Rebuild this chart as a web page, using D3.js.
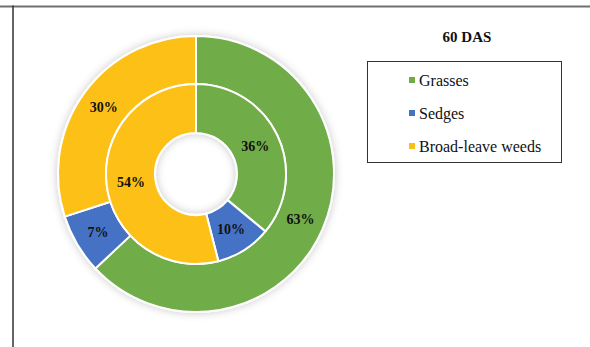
<!DOCTYPE html>
<html>
<head>
<meta charset="utf-8">
<script src="https://cdn.jsdelivr.net/npm/d3@7"></script>
<style>
  html, body { margin: 0; padding: 0; background: #fff; }
  svg { display: block; }
</style>
</head>
<body>
<svg id="chart" width="590" height="347"></svg>
<script>
// Weed composition at 60 days after sowing
const title = "60 DAS";
const categories = ["Grasses", "Sedges", "Broad-leave weeds"];
const outerValues = [63, 7, 30];   // outer ring (%)
const innerValues = [36, 10, 54];  // inner ring (%)
const colors = ["#6FAC46", "#4472C4", "#FCC015"];

const svg = d3.select("#chart");
const W = 590, H = 347;

// frame (only top and left edges fall inside the view)
svg.append("line").attr("x1", 0).attr("x2", W).attr("y1", 6.5).attr("y2", 6.5)
  .attr("stroke", "#707070").attr("stroke-width", 2);
svg.append("line").attr("x1", 13).attr("x2", 13).attr("y1", 5.5).attr("y2", H)
  .attr("stroke", "#333").attr("stroke-width", 1.5);

// soft shadow around the rings
const defs = svg.append("defs");
const f = defs.append("filter").attr("id", "glow")
  .attr("x", "-20%").attr("y", "-20%").attr("width", "140%").attr("height", "140%");
f.append("feGaussianBlur").attr("in", "SourceAlpha").attr("stdDeviation", 4).attr("result", "b");
f.append("feFlood").attr("flood-color", "#000").attr("flood-opacity", 0.22).attr("result", "c");
f.append("feComposite").attr("in", "c").attr("in2", "b").attr("operator", "in").attr("result", "s");
const m = f.append("feMerge");
m.append("feMergeNode").attr("in", "s");
m.append("feMergeNode").attr("in", "SourceGraphic");

const cx = 196, cy = 174;
const rings = [
  { values: outerValues, r0: 90, r1: 138 },
  { values: innerValues, r0: 41, r1: 90 }
];

const pie = d3.pie().sort(null).value(d => d);
const g = svg.append("g").attr("transform", `translate(${cx},${cy})`);
const donut = g.append("g").attr("filter", "url(#glow)");
const labels = g.append("g");

rings.forEach(ring => {
  const arc = d3.arc().innerRadius(ring.r0).outerRadius(ring.r1);
  const mid = (ring.r0 + ring.r1) / 2;
  const labelArc = d3.arc().innerRadius(mid).outerRadius(mid);
  const arcs = pie(ring.values);
  donut.selectAll(null).data(arcs).enter().append("path")
    .attr("d", arc)
    .attr("fill", (d, i) => colors[i])
    .attr("stroke", "#fff")
    .attr("stroke-width", 2)
    .attr("stroke-linejoin", "round");
  labels.selectAll(null).data(arcs).enter().append("text")
    .attr("transform", d => `translate(${labelArc.centroid(d)})`)
    .attr("text-anchor", "middle")
    .attr("dy", "0.35em")
    .attr("font-family", "'Liberation Serif', 'Times New Roman', serif")
    .attr("font-weight", "bold")
    .attr("font-size", 14)
    .attr("fill", "#111")
    .text(d => d.data + "%");
});

// title
svg.append("text").attr("x", 467).attr("y", 42)
  .attr("text-anchor", "middle")
  .attr("font-family", "'Liberation Serif', 'Times New Roman', serif")
  .attr("font-weight", "bold").attr("font-size", 15).attr("fill", "#111")
  .text(title);

// legend
const lg = svg.append("g");
lg.append("rect").attr("x", 367.5).attr("y", 61.5).attr("width", 194).attr("height", 101)
  .attr("fill", "#fff").attr("stroke", "#333").attr("stroke-width", 1);
const rowY = d3.scalePoint().domain(categories).range([80, 146]);
categories.forEach((c, i) => {
  const y = rowY(c);
  lg.append("rect").attr("x", 409).attr("y", y - 3).attr("width", 6).attr("height", 6)
    .attr("fill", colors[i]);
  lg.append("text").attr("x", 419).attr("y", y).attr("dy", "0.35em")
    .attr("font-family", "'Liberation Serif', 'Times New Roman', serif")
    .attr("font-size", 16).attr("fill", "#111")
    .text(c);
});
</script>
</body>
</html>
